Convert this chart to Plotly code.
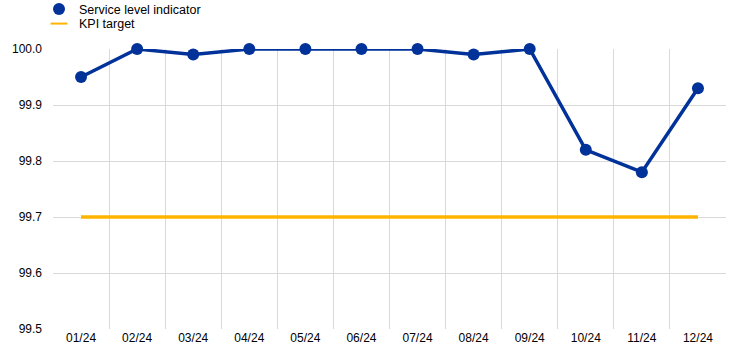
import plotly.graph_objects as go

months = ["01/24", "02/24", "03/24", "04/24", "05/24", "06/24",
          "07/24", "08/24", "09/24", "10/24", "11/24", "12/24"]
service_level = [99.95, 100.0, 99.99, 100.0, 100.0, 100.0,
                 100.0, 99.99, 100.0, 99.82, 99.78, 99.93]
kpi_target = [99.7] * 12
y_ticks = [99.5, 99.6, 99.7, 99.8, 99.9, 100.0]

BLUE = "#003299"
ORANGE = "#FFB400"
FONT = "Liberation Sans, Arial, sans-serif"

fig = go.Figure()
fig.add_trace(go.Scatter(
    x=months, y=kpi_target, mode="lines", name="KPI target",
    line=dict(color=ORANGE, width=3.5), showlegend=False, cliponaxis=False,
))
fig.add_trace(go.Scatter(
    x=months, y=service_level, mode="lines+markers", name="Service level indicator",
    line=dict(color=BLUE, width=3.5), marker=dict(color=BLUE, size=12),
    cliponaxis=False, showlegend=False,
))
# legend-only entries
fig.add_trace(go.Scatter(
    x=[None], y=[None], mode="markers", name="Service level indicator",
    marker=dict(color=BLUE, size=12), showlegend=True, legend="legend",
))
fig.add_trace(go.Scatter(
    x=[None], y=[None], mode="markers", name="KPI target",
    marker=dict(symbol="line-ew", size=13, line=dict(color=ORANGE, width=4)),
    showlegend=True, legend="legend2",
))

legend_common = dict(
    orientation="v", xref="paper", yref="paper",
    xanchor="left", yanchor="top", font=dict(size=12.5, family=FONT, color="#000000"),
    bgcolor="rgba(0,0,0,0)", itemsizing="constant", borderwidth=0,
)

fig.update_layout(
    width=744, height=357,
    margin=dict(l=53, r=18, t=49, b=28, autoexpand=False),
    paper_bgcolor="white", plot_bgcolor="white",
    font=dict(family=FONT, size=12, color="#000000"),
    showlegend=True,
    legend=dict(x=-0.0208, y=1.195, **legend_common),
    legend2=dict(x=-0.0208, y=1.143, **legend_common),
    xaxis=dict(
        type="category", tickson="boundaries", showgrid=True,
        gridcolor="#d9d9d9", gridwidth=1, showline=False, ticks="",
        tickfont=dict(size=12), range=[-0.5, 11.5],
    ),
    yaxis=dict(
        range=[99.5, 100.0], tickvals=y_ticks, tickformat=".1f",
        showgrid=True, gridcolor="#d9d9d9", gridwidth=1, zeroline=False,
        showline=False, ticks="", tickfont=dict(size=12), ticklabelstandoff=10,
    ),
)

fig.write_html("out.html", config={"displayModeBar": False},
               post_script="document.body.style.margin='0px';")
